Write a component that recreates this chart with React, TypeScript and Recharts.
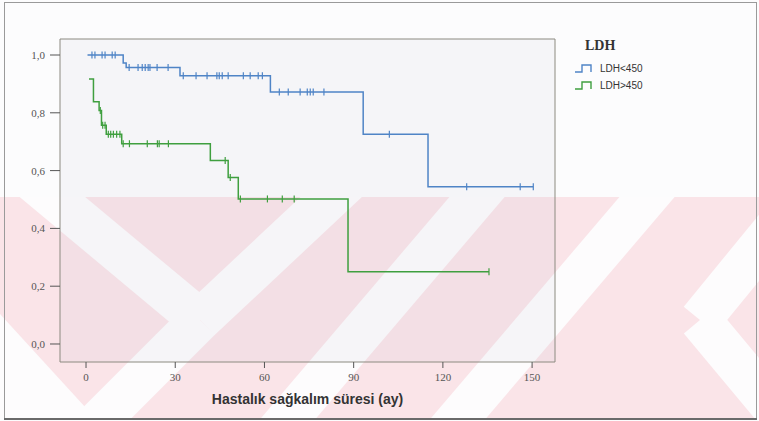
import { Line, LineChart, ReferenceArea, XAxis, YAxis } from "recharts";

const BLUE = "#4f84c6";
const GREEN = "#3f9f3f";

// Kaplan-Meier steps [ay, sağkalım] and censored times
const lowSteps: [number, number][] = [
  [0.5, 1.0],
  [12.5, 0.972],
  [13.5, 0.957],
  [31.6, 0.928],
  [62, 0.872],
  [93.2, 0.726],
  [115, 0.544],
];
const lowCensored = [
  2, 3, 5.4, 6.4, 8.8, 9.8, 14.5, 17.5, 18.9, 19.9, 20.9, 21.5, 23.9, 27.6, 32.7, 37, 40.7, 44, 44.8, 45.8,
  47.8, 52.9, 55.2, 57.9, 59.3, 65, 68, 72, 74.4, 75.4, 76.4, 80, 102, 128, 146, 150.4,
];

const highSteps: [number, number][] = [
  [1, 0.917],
  [2.5, 0.838],
  [4.4, 0.808],
  [5.2, 0.757],
  [6.8, 0.726],
  [12, 0.693],
  [41.8, 0.635],
  [47.8, 0.576],
  [51.2, 0.502],
  [88.1, 0.25],
];
const highCensored = [
  4.8, 5.6, 6.4, 7.5, 8.3, 9.2, 10.3, 11.4, 12.5, 14.6, 20.6, 24, 24.6, 27.7, 46.8, 48.5, 51.9, 61, 66, 70,
  135.5,
];

const X_TICKS = [0, 30, 60, 90, 120, 150];
const Y_TICKS = [0, 0.2, 0.4, 0.6, 0.8, 1.0];
const X_DOMAIN: [number, number] = [-8.75, 157.7];
const Y_DOMAIN: [number, number] = [-0.0623, 1.0554];

type Pt = { t: number; s: number; c: boolean };

function buildKM(steps: [number, number][], censored: number[]): Pt[] {
  const pts: Pt[] = steps.map(([t, s]) => ({ t, s, c: false }));
  for (const t of censored) {
    let s = steps[0][1];
    for (const [st, sv] of steps) if (st <= t) s = sv;
    pts.push({ t, s, c: true });
  }
  return pts.sort((a, b) => a.t - b.t);
}

const lowData = buildKM(lowSteps, lowCensored);
const highData = buildKM(highSteps, highCensored);

const censorDot = (color: string) => (p: any) => {
  const { cx, cy, payload, index } = p;
  if (!payload?.c) return <g key={`n${index}`} />;
  return <line key={`c${index}`} x1={cx} x2={cx} y1={cy - 3.5} y2={cy + 3.5} stroke={color} strokeWidth={1.2} />;
};

function Watermark() {
  const white = "#fdfcfd";
  return (
    <svg width={759} height={421} style={{ position: "absolute", left: 0, top: 0 }}>
      <defs>
        <clipPath id="wm">
          <rect x={0} y={197} width={759} height={221} />
        </clipPath>
      </defs>
      <rect x={0} y={0} width={759} height={421} fill="#fcfcfd" />
      <g clipPath="url(#wm)">
        <rect x={0} y={197} width={759} height={221} fill="#fae4e8" />
        <g stroke={white} strokeWidth={42} strokeLinecap="butt">
          <line x1={20} y1={170} x2={200} y2={320} />
          <line x1={360} y1={170} x2={200} y2={320} />
          <line x1={200} y1={320} x2={80} y2={440} />
          <line x1={500} y1={170} x2={270} y2={440} />
          <line x1={670} y1={170} x2={440} y2={440} />
          <line x1={790} y1={210} x2={700} y2={320} />
          <line x1={700} y1={320} x2={800} y2={440} />
        </g>
        <polygon points="0,314 0,420 97,420" fill={white} />
      </g>
      <rect x={4.5} y={2.5} width={752} height={416} fill="none" stroke="#9a9a9a" strokeWidth={1} />
      <line x1={4} x2={757} y1={419} y2={419} stroke="#6a6a6a" strokeWidth={2} />
    </svg>
  );
}

function Legend() {
  const item = (y: number, color: string, label: string) => (
    <g>
      <polyline
        points={`575,${y + 4} 582,${y + 4} 582,${y - 3} 591,${y - 3} 591,${y + 4}`}
        fill="none"
        stroke={color}
        strokeWidth={1.4}
      />
      <text x={600} y={y + 3.5} fontSize={10} fontFamily="Liberation Sans, Arial" fill="#333">
        {label}
      </text>
    </g>
  );
  return (
    <svg width={759} height={421} style={{ position: "absolute", left: 0, top: 0 }}>
      <text x={585} y={50} fontSize={14} fontWeight="bold" fontFamily="Liberation Serif, Times New Roman" fill="#333">
        LDH
      </text>
      {item(68, BLUE, "LDH<450")}
      {item(85, GREEN, "LDH>450")}
    </svg>
  );
}

export default function App() {
  return (
    <div style={{ position: "absolute", left: 0, top: 0, width: 759, height: 421 }}>
      <Watermark />
      <div style={{ position: "absolute", left: 0, top: 0 }}>
        <LineChart width={759} height={421} margin={{ top: 39, right: 204, bottom: 0, left: 0 }}>
          <ReferenceArea
            x1={X_DOMAIN[0]}
            x2={X_DOMAIN[1]}
            y1={Y_DOMAIN[0]}
            y2={Y_DOMAIN[1]}
            fill="#bdb8d2"
            fillOpacity={0.1}
            stroke="#8c8a80"
            strokeWidth={1}
            ifOverflow="visible"
          />
          <XAxis
            type="number"
            dataKey="t"
            domain={X_DOMAIN}
            ticks={X_TICKS}
            allowDataOverflow
            height={59}
            axisLine={false}
            tickSize={6}
            tickMargin={5}
            tickLine={{ stroke: "#555" }}
            tick={{ fontSize: 11, fill: "#555", fontFamily: "Liberation Serif, Times New Roman" }}
            label={{
              value: "Hastalık sağkalım süresi (ay)",
              position: "insideBottom",
              offset: 17,
              fill: "#333",
              fontSize: 14,
              fontWeight: 700,
              fontFamily: "Liberation Sans, Arial",
            }}
          />
          <YAxis
            type="number"
            domain={Y_DOMAIN}
            ticks={Y_TICKS}
            allowDataOverflow
            width={60}
            axisLine={false}
            tickSize={10}
            tickMargin={5}
            tickLine={{ stroke: "#555" }}
            tick={{ fontSize: 11, fill: "#555", fontFamily: "Liberation Serif, Times New Roman" }}
            tickFormatter={(v: number) => v.toFixed(1).replace(".", ",")}
          />
          <Line
            data={lowData}
            dataKey="s"
            type="stepAfter"
            stroke={BLUE}
            strokeWidth={1.5}
            dot={censorDot(BLUE)}
            activeDot={false}
            isAnimationActive={false}
          />
          <Line
            data={highData}
            dataKey="s"
            type="stepAfter"
            stroke={GREEN}
            strokeWidth={1.5}
            dot={censorDot(GREEN)}
            activeDot={false}
            isAnimationActive={false}
          />
        </LineChart>
      </div>
      <Legend />
    </div>
  );
}
